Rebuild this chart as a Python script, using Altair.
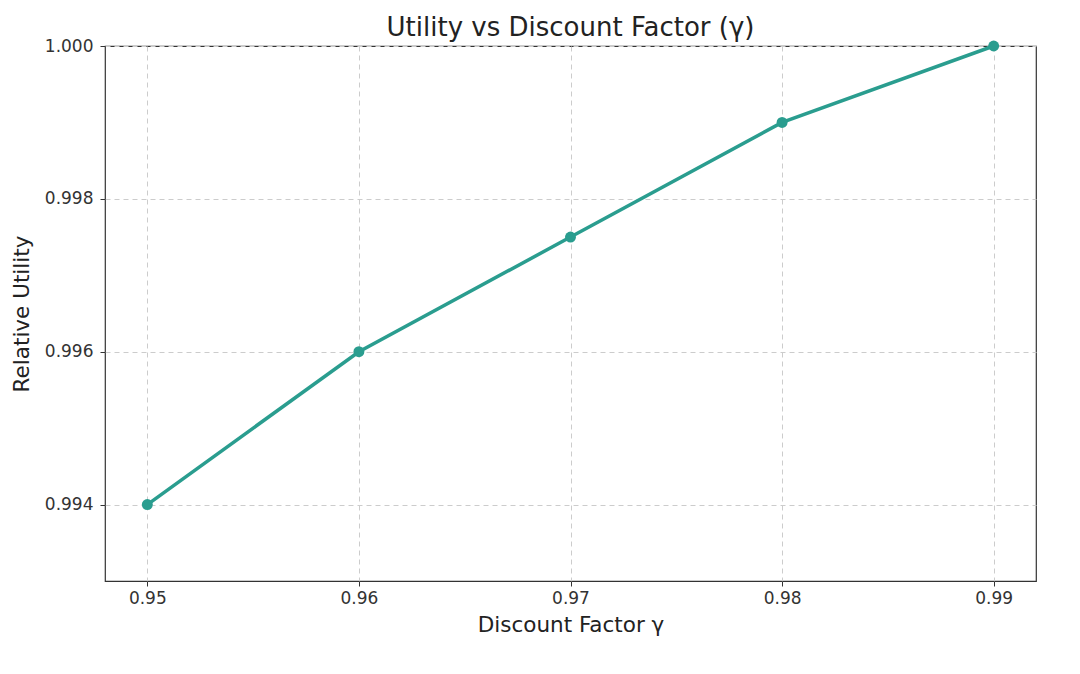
import altair as alt
import pandas as pd

gamma = [0.95, 0.96, 0.97, 0.98, 0.99]
utility = [0.994, 0.996, 0.9975, 0.999, 1.000]
x_ticks = [0.95, 0.96, 0.97, 0.98, 0.99]
y_ticks = [0.994, 0.996, 0.998, 1.000]

df = pd.DataFrame({"gamma": gamma, "utility": utility})

FONT = "DejaVu Sans"
COLOR = "#2a9d8f"

x = alt.X("gamma:Q", title="Discount Factor γ",
          scale=alt.Scale(domain=[0.948, 0.992], nice=False, zero=False),
          axis=alt.Axis(values=x_ticks, format=".2f"))
y = alt.Y("utility:Q", title="Relative Utility",
          scale=alt.Scale(domain=[0.993, 1.000], nice=False, zero=False),
          axis=alt.Axis(values=y_ticks, format=".3f"))

line = alt.Chart(df).mark_line(color=COLOR, strokeWidth=3.5).encode(x=x, y=y)
pts = alt.Chart(df).mark_circle(color=COLOR, size=120, opacity=1).encode(x=x, y=y)

chart = (line + pts).properties(
    width=931, height=535,
    title=alt.TitleParams("Utility vs Discount Factor (γ)", font=FONT, fontSize=26,
                          fontWeight="normal", color="#222222", offset=2, dy=6),
    autosize=alt.AutoSizeParams(type="none"),
    padding={"left": 97, "top": 38, "right": 30, "bottom": 80},
).configure_view(
    stroke="#333333", strokeWidth=1.2
).configure_axis(
    labelFont=FONT, labelFontSize=17, labelColor="#333333",
    titleFont=FONT, titleFontSize=21.5, titleFontWeight="normal", titleColor="#222222",
    grid=True, gridDash=[5, 4], gridColor="#cccccc", gridWidth=1,
    domain=False, tickColor="#333333", tickSize=5, labelPadding=4,
).configure_axisX(titlePadding=8).configure_axisY(titlePadding=11, labelPadding=7)

chart.save("out.html", embed_options={"renderer": "svg", "actions": False})
